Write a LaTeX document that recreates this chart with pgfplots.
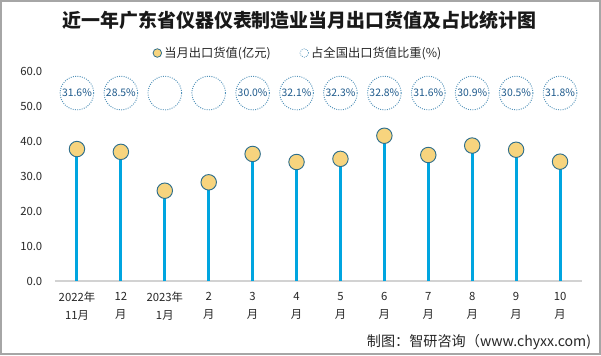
\documentclass[border=0pt]{standalone}
\usepackage{fontspec}
\setmainfont{Noto Sans CJK SC}
\usepackage{pgfplots}
\pgfplotsset{compat=1.18}
\definecolor{stemblue}{RGB}{0,165,224}
\definecolor{dotfill}{RGB}{247,212,126}
\definecolor{dotedge}{RGB}{46,110,140}
\definecolor{circ}{RGB}{80,145,185}
\definecolor{lab}{RGB}{30,90,140}
\begin{document}
\begin{tikzpicture}
\useasboundingbox (0,0) rectangle (450.75pt,266.25pt);
\draw[gray!70, line width=1.2pt] (0.6pt,0.6pt) rectangle (450.15pt,265.65pt);
\node[font=\bfseries\fontsize{14.2}{16}\selectfont, text=black!90] at (224.5pt,251pt) {近一年广东省仪器仪表制造业当月出口货值及占比统计图};
\node[anchor=east, inner sep=0pt, font=\fontsize{10.6}{12}\selectfont, text=black!85] at (443.5pt,9.8pt) {制图：智研咨询（www.chyxx.com)};
\begin{axis}[
  at={(41.25pt,55.5pt)}, anchor=south west,
  width=395.25pt, height=157.5pt, scale only axis,
  xmin=-0.5, xmax=11.5, ymin=0, ymax=60,
  axis x line=bottom, axis y line=left,
  x axis line style={-, draw=gray!35, line width=0.8pt},
  y axis line style={draw=none},
  major tick length=0pt,
  ytick={0,10,20,30,40,50,60},
  yticklabel style={/pgf/number format/.cd, fixed, fixed zerofill, precision=1, /tikz/.cd, font=\fontsize{8.5}{10}\selectfont, text=black!85, xshift=-6pt},
  /pgf/number format/assume math mode=true,
  xtick={0,...,11},
  xticklabels={{2022年\\11月},{12\\月},{2023年\\1月},{2\\月},{3\\月},{4\\月},{5\\月},{6\\月},{7\\月},{8\\月},{9\\月},{10\\月}},
  xticklabel style={align=center, font=\fontsize{8.5}{13.5}\selectfont, text=black!85, yshift=-5pt},
  clip=false,
  legend columns=2,
  legend style={at={(0.462,1.0857)}, anchor=center, draw=none, fill=none, font=\fontsize{9.2}{11}\selectfont, text=black!85, /tikz/every even column/.append style={column sep=20pt}},
  legend cell align=left,
]
\addlegendimage{only marks, mark=*, mark size=3.2pt, mark options={fill=dotfill, draw=dotedge, line width=0.6pt}}
\addlegendentry{当月出口货值(亿元)}
\addlegendimage{only marks, mark=*, mark size=3.2pt, mark options={fill=white, draw=circ, densely dotted, line width=0.6pt}}
\addlegendentry{占全国出口货值比重(\%)}
% stems
\addplot[ycomb, mark=none, draw=stemblue, line width=2.3pt, forget plot] coordinates {
(0,37.7) (1,36.9) (2,25.8) (3,28.2) (4,36.3) (5,34.0) (6,34.9) (7,41.5) (8,36.0) (9,38.7) (10,37.5) (11,34.1)};
\addplot[only marks, mark=*, mark size=5.8pt, mark options={fill=dotfill, draw=dotedge, line width=0.7pt}, forget plot] coordinates {
(0,37.7) (1,36.9) (2,25.8) (3,28.2) (4,36.3) (5,34.0) (6,34.9) (7,41.5) (8,36.0) (9,38.7) (10,37.5) (11,34.1)};
% share circles
\addplot[only marks, mark=*, mark size=12.6pt, mark options={fill=white, draw=circ, densely dotted, line width=0.7pt}, forget plot] coordinates {
(0,53.7) (1,53.7) (2,53.7) (3,53.7) (4,53.7) (5,53.7) (6,53.7) (7,53.7) (8,53.7) (9,53.7) (10,53.7) (11,53.7)};
\addplot[draw=none, mark=none, forget plot, nodes near coords, point meta=explicit symbolic,
  every node near coord/.append style={anchor=center, font=\fontsize{7.8}{9}\selectfont, text=lab, inner sep=0pt}] coordinates {
(0,53.7)[31.6\%] (1,53.7)[28.5\%] (4,53.7)[30.0\%] (5,53.7)[32.1\%] (6,53.7)[32.3\%] (7,53.7)[32.8\%] (8,53.7)[31.6\%] (9,53.7)[30.9\%] (10,53.7)[30.5\%] (11,53.7)[31.8\%]};
\end{axis}
\end{tikzpicture}
\end{document}
